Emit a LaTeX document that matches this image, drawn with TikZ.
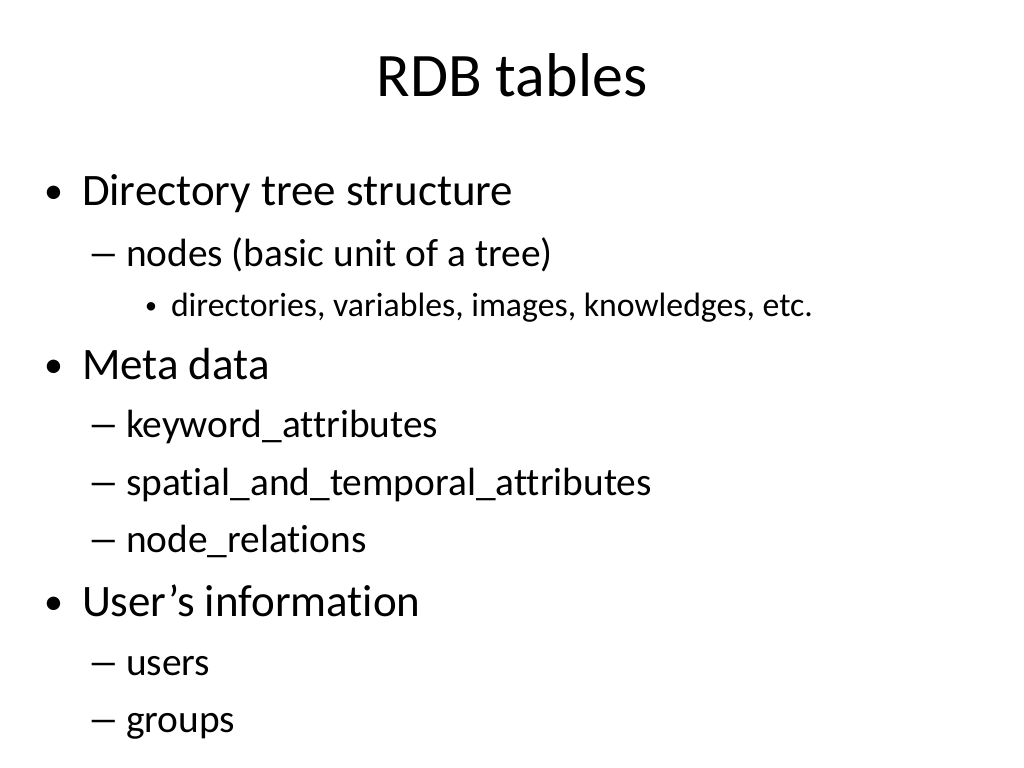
\documentclass[tikz,border=0pt]{standalone}
\usepackage{fontspec}
\setmainfont[Ligatures={NoCommon}]{Carlito}
\usepackage{tikz}

\begin{document}
\begin{tikzpicture}[x=0.025cm,y=-0.025cm,
    every node/.style={anchor=base west,inner sep=0pt,outer sep=0pt},
    title/.style={anchor=base,font=\fontsize{44}{52}\selectfont},
    lvlone/.style={font=\fontsize{32}{38}\selectfont},
    lvltwo/.style={font=\fontsize{28}{34}\selectfont},
    lvlthree/.style={font=\fontsize{24}{29}\selectfont},
    bulone/.style={font=\fontsize{27}{32}\selectfont},
    bulthree/.style={font=\fontsize{17}{20}\selectfont},
    dashtwo/.style={font=\fontsize{28}{34}\selectfont}]
        \useasboundingbox[fill=white] (0,0) rectangle (1024,768);
        \node[title] (title) at (512,97) {RDB tables};
        % level one
        \node[bulone] (bdir) at (44,203) {•};
        \node[lvlone] (dir) at (82,205) {Directory tree structure};
        \node[bulone] (bmeta) at (44,377) {•};
        \node[lvlone] (meta) at (82,379) {Meta data};
        \node[bulone] (buser) at (44,614) {•};
        \node[lvlone] (user) at (82,616) {User’s information};
        % level two
        \node[dashtwo] (dnodes) at (89,266) {\scalebox{0.8}[1]{—}};
        \node[lvltwo] (nodes) at (126,266) {nodes (basic unit of a tree)};
        \node[dashtwo] (dkw) at (89,437) {\scalebox{0.8}[1]{—}};
        \node[lvltwo] (kw) at (126,437) {keyword\_attributes};
        \node[dashtwo] (dspat) at (89,495) {\scalebox{0.8}[1]{—}};
        \node[lvltwo] (spat) at (126,495) {spatial\_and\_temporal\_attributes};
        \node[dashtwo] (drel) at (89,552) {\scalebox{0.8}[1]{—}};
        \node[lvltwo] (rel) at (126,552) {node\_relations};
        \node[dashtwo] (dusers) at (89,675) {\scalebox{0.8}[1]{—}};
        \node[lvltwo] (users) at (126,675) {users};
        \node[dashtwo] (dgroups) at (89,732) {\scalebox{0.8}[1]{—}};
        \node[lvltwo] (groups) at (126,732) {groups};
        % level three
        \node[bulthree] (bdirs) at (145,313) {•};
        \node[lvlthree] (dirs) at (171,316) {directories, variables, images, knowledges, etc.};
      \end{tikzpicture}
\end{document}
